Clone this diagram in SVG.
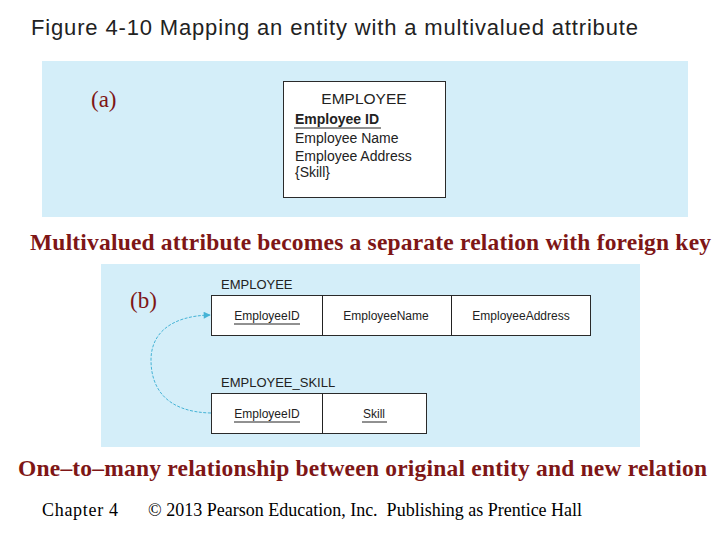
<svg xmlns="http://www.w3.org/2000/svg" width="720" height="540" viewBox="0 0 720 540">
<style>
.panel{fill:#D4EEF9}
.box{fill:#ffffff;stroke:#2a2a2a;stroke-width:1}
.sans{font-family:"Liberation Sans",Arial,sans-serif;fill:#222}
.serif{font-family:"Liberation Serif","Times New Roman",serif}
.red{fill:#7E1616}
.ul{stroke:#222;stroke-width:1}
.conn{fill:none;stroke:#45B3D6;stroke-width:1;stroke-dasharray:3 1.5}
</style>
<defs>
<marker id="arrow" viewBox="0 0 10 10" refX="9" refY="5" markerWidth="9" markerHeight="7" markerUnits="userSpaceOnUse" orient="auto">
<path d="M0,0 L10,5 L0,10 z" fill="#45B3D6"/>
</marker>
</defs>
<rect width="720" height="540" fill="#ffffff"/>
<text class="sans" x="31" y="35" font-size="22" textLength="607" fill="#000">Figure 4-10 Mapping an entity with a multivalued attribute</text>

<rect class="panel" x="42" y="61" width="646" height="156"/>
<text class="serif red" x="91" y="107" font-size="23">(a)</text>
<g id="employee-entity">
<rect class="box" x="283.5" y="81.5" width="162" height="116"/>
<text class="sans" x="364" y="104" font-size="15.5" text-anchor="middle">EMPLOYEE</text>
<text class="sans" x="295" y="124" font-size="14" font-weight="bold">Employee ID</text>
<line class="ul" x1="294" y1="128" x2="381" y2="128"/>
<text class="sans" x="295" y="143" font-size="14">Employee Name</text>
<text class="sans" x="295" y="161" font-size="14">Employee Address</text>
<text class="sans" x="295" y="177" font-size="14">{Skill}</text>
</g>

<text class="serif red" x="30" y="250" font-size="23.5" font-weight="bold" textLength="681">Multivalued attribute becomes a separate relation with foreign key</text>

<rect class="panel" x="101" y="264" width="539" height="183"/>
<text class="serif red" x="130" y="308" font-size="23">(b)</text>

<g id="employee-relation">
<text class="sans" x="221" y="289" font-size="13">EMPLOYEE</text>
<rect class="box" x="211.5" y="295.5" width="379" height="40"/>
<line class="ul" x1="322.5" y1="295.5" x2="322.5" y2="335.5"/>
<line class="ul" x1="451.5" y1="295.5" x2="451.5" y2="335.5"/>
<text class="sans" x="267" y="320" font-size="12" text-anchor="middle">EmployeeID</text>
<line class="ul" x1="234" y1="324" x2="300" y2="324"/>
<text class="sans" x="386" y="320" font-size="12" text-anchor="middle">EmployeeName</text>
<text class="sans" x="521" y="320" font-size="12" text-anchor="middle">EmployeeAddress</text>
</g>

<g id="employee-skill-relation">
<text class="sans" x="221" y="387" font-size="13">EMPLOYEE_SKILL</text>
<rect class="box" x="211.5" y="393.5" width="215" height="40"/>
<line class="ul" x1="322.5" y1="393.5" x2="322.5" y2="433.5"/>
<text class="sans" x="267" y="418" font-size="12" text-anchor="middle">EmployeeID</text>
<line class="ul" x1="234" y1="422" x2="300" y2="422"/>
<text class="sans" x="374" y="418" font-size="12" text-anchor="middle">Skill</text>
<line class="ul" x1="362" y1="422" x2="387" y2="422"/>
</g>

<g id="connectors">
<path class="conn" d="M211,413 C166,412 151,388 151,360 C151,334 170,316 210,315" marker-end="url(#arrow)"/>
</g>

<text class="serif red" x="18" y="476" font-size="23.5" font-weight="bold" textLength="689">One–to–many relationship between original entity and new relation</text>
<text class="serif" x="42" y="516" font-size="18" textLength="76" fill="#000">Chapter 4</text>
<text class="serif" x="148" y="516" font-size="18" fill="#000" style="white-space:pre" xml:space="preserve">© 2013 Pearson Education, Inc.  Publishing as Prentice Hall</text>
</svg>
